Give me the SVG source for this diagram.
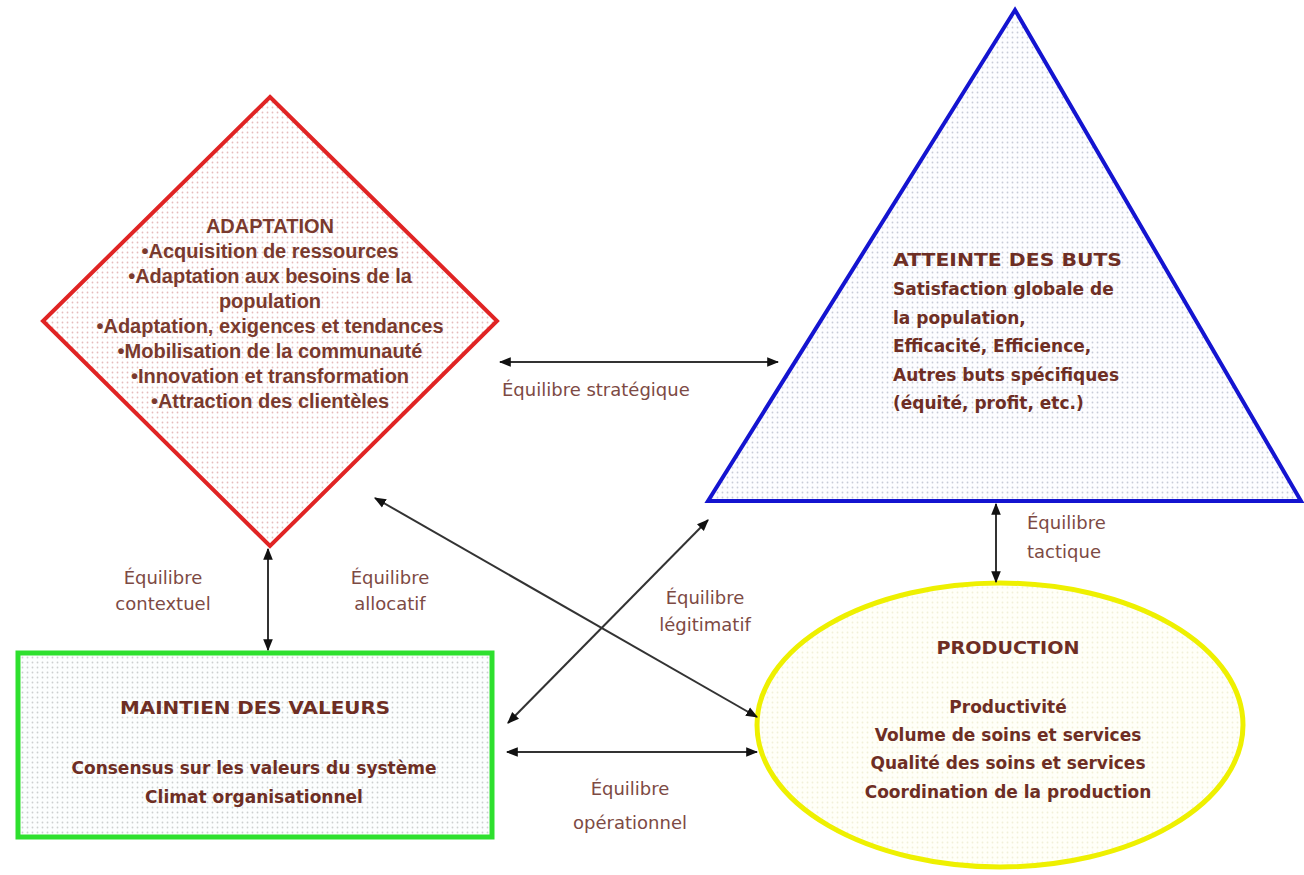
<svg xmlns="http://www.w3.org/2000/svg" width="1304" height="875" viewBox="0 0 1304 875">
<style>
.comic{font-family:"DejaVu Sans","Liberation Sans",sans-serif;font-weight:bold;font-size:17px;fill:#6e2e24;}
.arial{font-family:"Liberation Sans",Arial,sans-serif;font-weight:bold;font-size:20px;fill:#7a3a2e;text-anchor:middle;}
.lbl{font-family:"DejaVu Sans","Liberation Sans",sans-serif;font-size:18px;fill:#7d4a44;}
.conn{stroke:#333;stroke-width:2;fill:none;marker-start:url(#ah);marker-end:url(#ah);}
</style>
<defs>
<marker id="ah" viewBox="0 0 10 10" refX="9" refY="5" markerWidth="12" markerHeight="12" markerUnits="userSpaceOnUse" orient="auto-start-reverse">
<path d="M0,1 L10,5 L0,9 z" fill="#111"/>
</marker>
<pattern id="pRed" width="5" height="5" patternUnits="userSpaceOnUse"><rect width="5" height="5" fill="#fff"/><circle cx="2.5" cy="2.5" r="0.9" fill="#e6bcbc"/></pattern>
<pattern id="pBlue" width="5" height="5" patternUnits="userSpaceOnUse"><rect width="5" height="5" fill="#fdfdff"/><circle cx="2.5" cy="2.5" r="0.9" fill="#c8ccd8"/></pattern>
<pattern id="pGreen" width="5" height="5" patternUnits="userSpaceOnUse"><rect width="5" height="5" fill="#fcfefe"/><circle cx="2.5" cy="2.5" r="0.9" fill="#ccd0d0"/></pattern>
<pattern id="pYellow" width="5" height="5" patternUnits="userSpaceOnUse"><rect width="5" height="5" fill="#fffff8"/><circle cx="2.5" cy="2.5" r="0.9" fill="#f2f0d8"/></pattern>
</defs>
<rect width="1304" height="875" fill="#fff"/>

<g id="adaptation">
<polygon points="270,97 497,321 270,546 43,321" fill="url(#pRed)" stroke="#e02424" stroke-width="4"/>
<text class="arial" x="270" y="233">ADAPTATION</text>
<text class="arial" x="270" y="258">•Acquisition de ressources</text>
<text class="arial" x="270" y="283">•Adaptation aux besoins de la</text>
<text class="arial" x="270" y="308">population</text>
<text class="arial" x="270" y="333">•Adaptation, exigences et tendances</text>
<text class="arial" x="270" y="358">•Mobilisation de la communauté</text>
<text class="arial" x="270" y="383">•Innovation et transformation</text>
<text class="arial" x="270" y="408">•Attraction des clientèles</text>
</g>

<g id="atteinte">
<polygon points="1015,10 1301,501 708,501" fill="url(#pBlue)" stroke="#1414d0" stroke-width="4"/>
<text class="comic" x="893" y="266" textLength="229" lengthAdjust="spacingAndGlyphs">ATTEINTE DES BUTS</text>
<text class="comic" x="893" y="295">Satisfaction globale de</text>
<text class="comic" x="893" y="324">la population,</text>
<text class="comic" x="893" y="352">Efficacité, Efficience,</text>
<text class="comic" x="893" y="381">Autres buts spécifiques</text>
<text class="comic" x="893" y="409">(équité, profit, etc.)</text>
</g>

<g id="maintien">
<rect x="18" y="653" width="474" height="184" fill="url(#pGreen)" stroke="#2ee02e" stroke-width="5"/>
<text class="comic" x="255" y="714" text-anchor="middle" textLength="270" lengthAdjust="spacingAndGlyphs">MAINTIEN DES VALEURS</text>
<text class="comic" x="254" y="774" text-anchor="middle">Consensus sur les valeurs du système</text>
<text class="comic" x="254" y="803" text-anchor="middle">Climat organisationnel</text>
</g>

<g id="production">
<ellipse cx="1000" cy="725" rx="243" ry="142" fill="url(#pYellow)" stroke="#eef000" stroke-width="5"/>
<text class="comic" x="1008" y="654" text-anchor="middle" textLength="143" lengthAdjust="spacingAndGlyphs">PRODUCTION</text>
<text class="comic" x="1008" y="713" text-anchor="middle">Productivité</text>
<text class="comic" x="1008" y="741" text-anchor="middle">Volume de soins et services</text>
<text class="comic" x="1008" y="769" text-anchor="middle">Qualité des soins et services</text>
<text class="comic" x="1008" y="798" text-anchor="middle">Coordination de la production</text>
</g>

<g id="connectors">
<line class="conn" x1="500" y1="362" x2="778" y2="362"/>
<line class="conn" x1="268" y1="549" x2="268" y2="650"/>
<line class="conn" x1="375" y1="498" x2="757" y2="717"/>
<line class="conn" x1="508" y1="723" x2="708" y2="520"/>
<line class="conn" x1="507" y1="752" x2="757" y2="752"/>
<line class="conn" x1="996" y1="504" x2="996" y2="582"/>
</g>

<g id="labels">
<text class="lbl" x="502" y="396">Équilibre stratégique</text>
<text class="lbl" x="163" y="584" text-anchor="middle">Équilibre</text>
<text class="lbl" x="163" y="610" text-anchor="middle">contextuel</text>
<text class="lbl" x="390" y="584" text-anchor="middle">Équilibre</text>
<text class="lbl" x="390" y="610" text-anchor="middle">allocatif</text>
<text class="lbl" x="705" y="604" text-anchor="middle">Équilibre</text>
<text class="lbl" x="705" y="631" text-anchor="middle">légitimatif</text>
<text class="lbl" x="630" y="795" text-anchor="middle">Équilibre</text>
<text class="lbl" x="630" y="829" text-anchor="middle">opérationnel</text>
<text class="lbl" x="1027" y="529">Équilibre</text>
<text class="lbl" x="1027" y="558">tactique</text>
</g>
</svg>
